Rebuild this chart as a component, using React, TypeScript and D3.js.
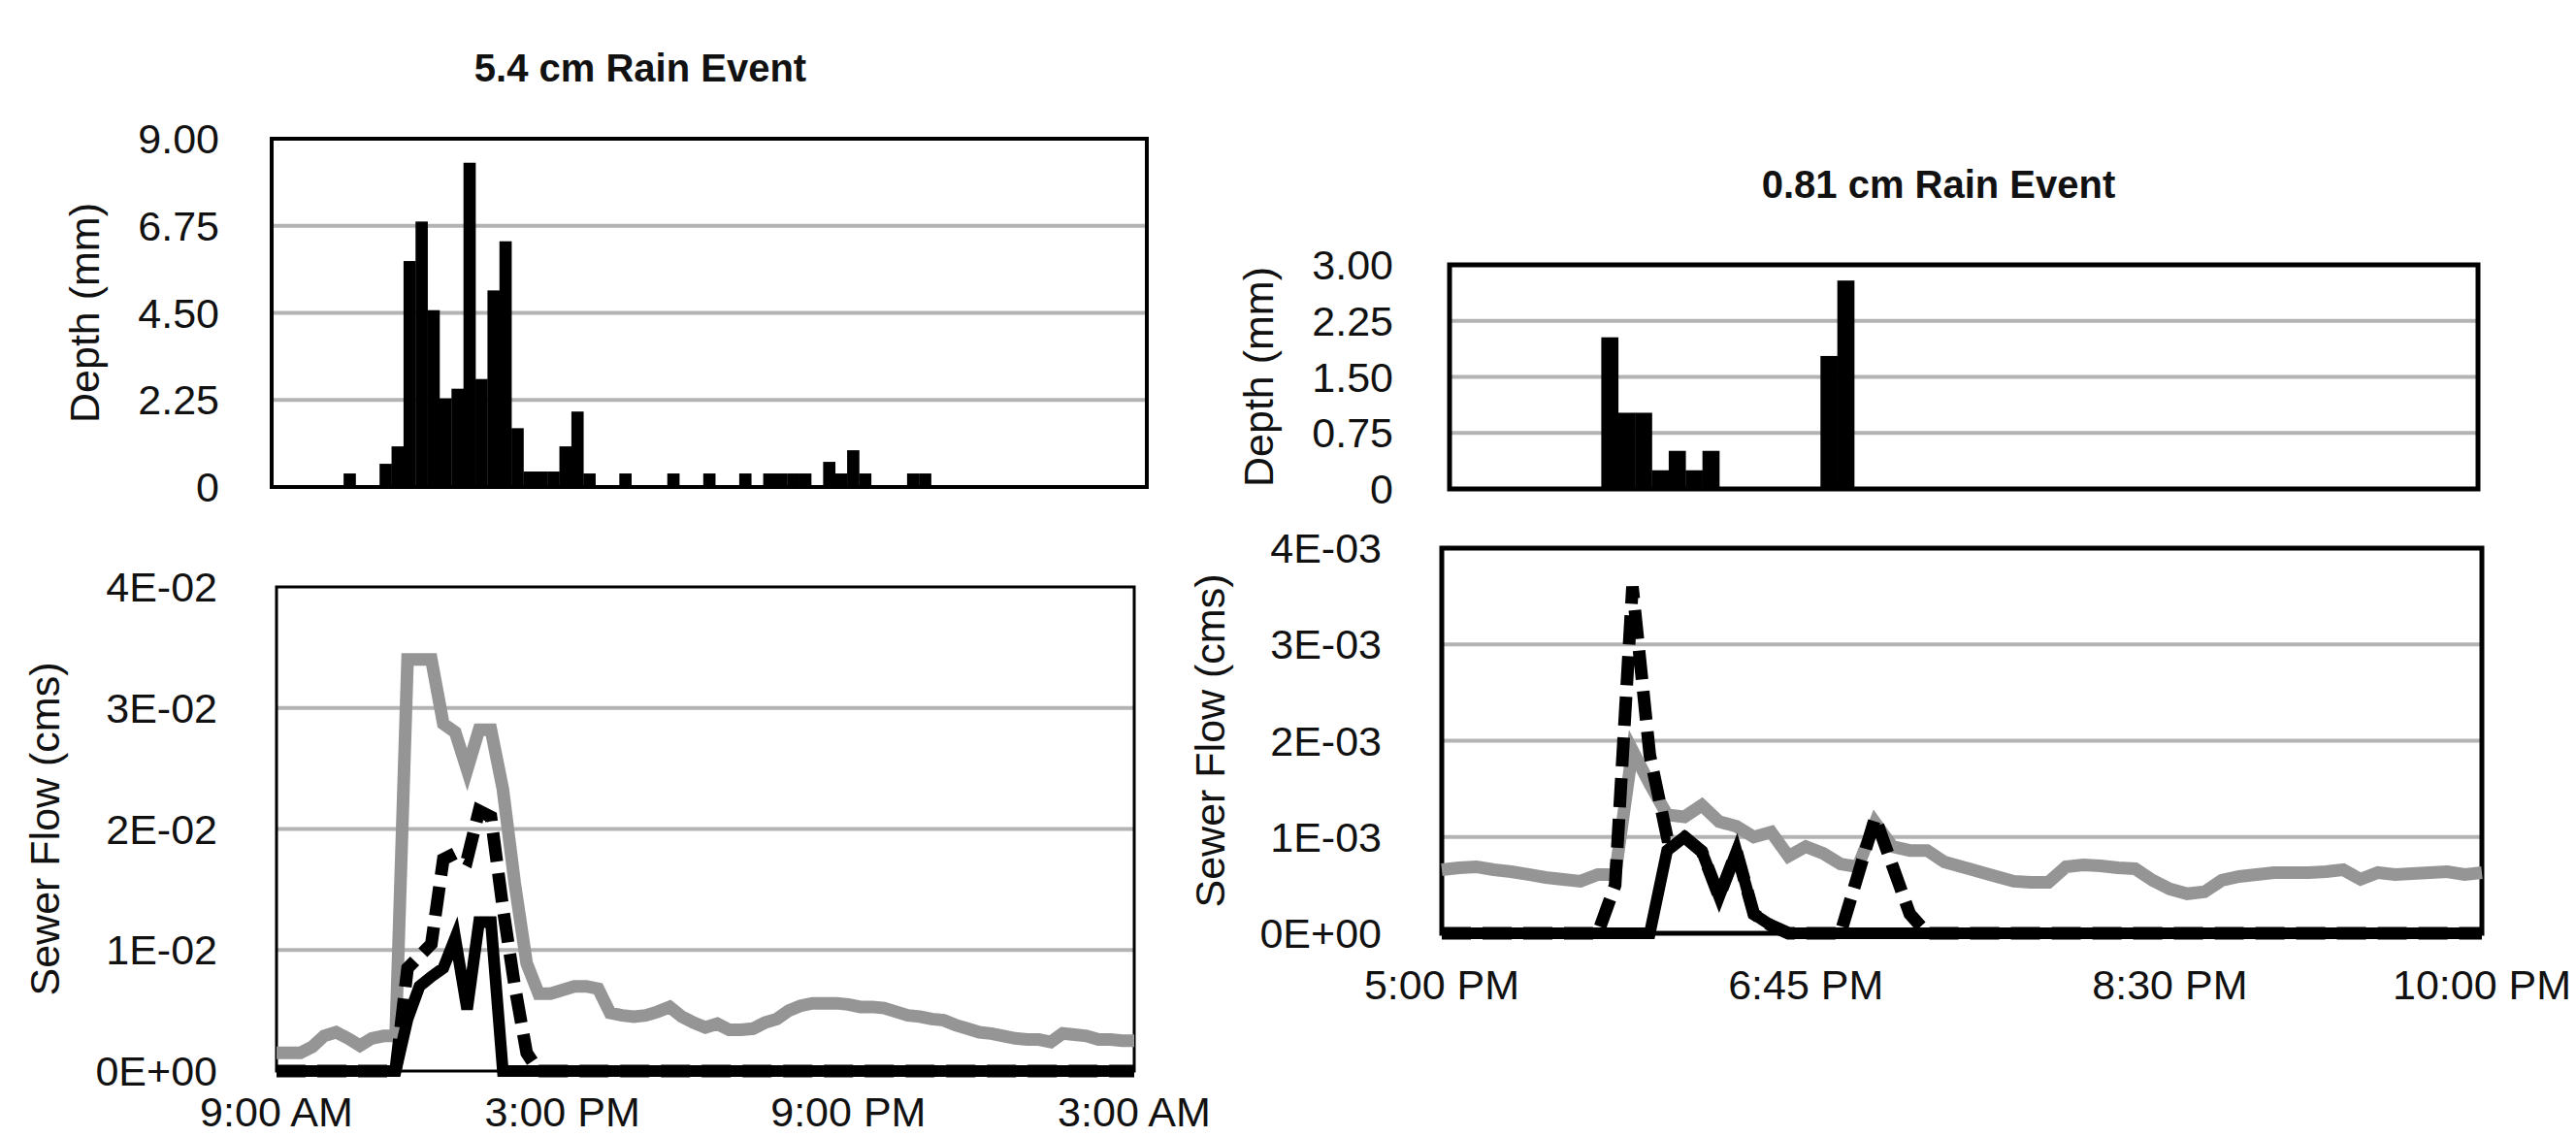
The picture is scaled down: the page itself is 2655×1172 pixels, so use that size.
import React from "react";
import * as d3 from "d3";

// ---------- DATA ----------
// 5.4 cm event: 15-minute steps from 9:00 AM to 3:00 AM (73 categories)
const bigRainDepth = [
  0, 0, 0, 0, 0, 0, 0.35, 0, 0, 0.6, 1.05, 5.84, 6.86, 4.57, 2.29, 2.54, 8.38, 2.79, 5.08, 6.35,
  1.52, 0.4, 0.4, 0.4, 1.05, 1.95, 0.35, 0, 0, 0.35, 0, 0, 0, 0.35, 0, 0, 0.35, 0, 0, 0.35,
  0, 0.35, 0.35, 0.35, 0.35, 0, 0.65, 0.35, 0.95, 0.35, 0, 0, 0, 0.35, 0.35, 0, 0, 0, 0, 0,
  0, 0, 0, 0, 0, 0, 0, 0, 0, 0, 0, 0, 0,
];
const bigFlowGray = [
  0.0015, 0.0015, 0.0015, 0.002, 0.0029, 0.0032, 0.0027, 0.0021, 0.0027, 0.0029, 0.0029,
  0.034, 0.034, 0.034, 0.0287, 0.028, 0.0249, 0.0282, 0.0282, 0.0233, 0.0155, 0.0089,
  0.0064, 0.0064, 0.0067, 0.007, 0.007, 0.0068, 0.0048, 0.0046, 0.0045,
  0.0046, 0.0049, 0.0053, 0.0045, 0.004, 0.0036, 0.0039, 0.0034, 0.0034, 0.0035,
  0.004, 0.0043, 0.005, 0.0054, 0.0056, 0.0056, 0.0056, 0.0055, 0.0053, 0.0053,
  0.0052, 0.0049, 0.0046, 0.0045, 0.0043, 0.0042, 0.0038, 0.0035, 0.0032, 0.0031,
  0.0029, 0.0027, 0.0026, 0.0026, 0.0024, 0.0031, 0.003, 0.0029, 0.0026, 0.0026, 0.0025, 0.0025,
];
const bigFlowSolid = [
  0, 0, 0, 0, 0, 0, 0, 0, 0, 0, 0, 0.0043, 0.007, 0.0078, 0.0085, 0.011, 0.0051, 0.0123, 0.0123, 0,
  0, 0, 0, 0, 0, 0, 0, 0, 0, 0, 0, 0, 0, 0, 0, 0, 0, 0, 0, 0,
  0, 0, 0, 0, 0, 0, 0, 0, 0, 0, 0, 0, 0, 0, 0, 0, 0, 0, 0, 0,
  0, 0, 0, 0, 0, 0, 0, 0, 0, 0, 0, 0, 0,
];
const bigFlowDashed = [
  0, 0, 0, 0, 0, 0, 0, 0, 0, 0, 0, 0.0085, 0.0095, 0.0105, 0.0175, 0.018, 0.0175, 0.0215, 0.021, 0.0135,
  0.007, 0.0015, 0, 0, 0, 0, 0, 0, 0, 0, 0, 0, 0, 0, 0, 0, 0, 0, 0, 0,
  0, 0, 0, 0, 0, 0, 0, 0, 0, 0, 0, 0, 0, 0, 0, 0, 0, 0, 0, 0,
  0, 0, 0, 0, 0, 0, 0, 0, 0, 0, 0, 0, 0,
];
const bigTimeLabels = ["9:00 AM", "3:00 PM", "9:00 PM", "3:00 AM"];
const bigTimeLabelMinutes = [0, 360, 720, 1080];
const bigDepthTicks = [0, 2.25, 4.5, 6.75, 9];
const bigFlowTicks = [0, 0.01, 0.02, 0.03, 0.04];

// 0.81 cm event: 5-minute steps from 5:00 PM to 10:00 PM (61 categories)
const smallRainDepth = [
  0, 0, 0, 0, 0, 0, 0, 0, 0, 2.03, 1.02, 1.02, 0.25, 0.51, 0.25, 0.51, 0, 0, 0, 0,
  0, 0, 1.78, 2.79, 0, 0, 0, 0, 0, 0, 0, 0, 0, 0, 0, 0, 0, 0, 0, 0,
  0, 0, 0, 0, 0, 0, 0, 0, 0, 0, 0, 0, 0, 0, 0, 0, 0, 0, 0, 0, 0,
];
const smallFlowGray = [
  0.00066, 0.00068, 0.00069, 0.00066, 0.00064, 0.00061, 0.00058, 0.00056, 0.00054, 0.00061,
  0.00061, 0.0019, 0.00155, 0.00123, 0.00121, 0.00133, 0.00116, 0.00111, 0.001, 0.00105,
  0.0008, 0.0009, 0.00083, 0.00072, 0.00069, 0.00115, 0.0009, 0.00086, 0.00086, 0.00074,
  0.00069, 0.00064, 0.00059, 0.00054, 0.00053, 0.00053, 0.00069, 0.00071, 0.0007, 0.00068,
  0.00067, 0.00055, 0.00046, 0.00041, 0.00043, 0.00055, 0.00059, 0.00061, 0.00063, 0.00063,
  0.00063, 0.00064, 0.00066, 0.00056, 0.00063, 0.00061, 0.00062, 0.00063, 0.00064, 0.00061, 0.00063,
];
const smallFlowSolid = [
  0, 0, 0, 0, 0, 0, 0, 0, 0, 0, 0, 0, 0, 0.00086, 0.001, 0.00085, 0.00038, 0.00085, 0.0002, 0.00008,
  0, 0, 0, 0, 0, 0, 0, 0, 0, 0, 0, 0, 0, 0, 0, 0, 0, 0, 0, 0,
  0, 0, 0, 0, 0, 0, 0, 0, 0, 0, 0, 0, 0, 0, 0, 0, 0, 0, 0, 0, 0,
];
const smallFlowDashed = [
  0, 0, 0, 0, 0, 0, 0, 0, 0, 0, 0.0005, 0.0036, 0.00185, 0.001, 0.001, 0.00085, 0.00038, 0.00085, 0.0002, 0.00008,
  0, 0, 0, 0, 0.0006, 0.0012, 0.0007, 0.0002, 0, 0, 0, 0, 0, 0, 0, 0, 0, 0, 0, 0,
  0, 0, 0, 0, 0, 0, 0, 0, 0, 0, 0, 0, 0, 0, 0, 0, 0, 0, 0, 0, 0,
];
const smallTimeLabels = ["5:00 PM", "6:45 PM", "8:30 PM", "10:00 PM"];
const smallTimeLabelMinutes = [0, 105, 210, 300];
const smallDepthTicks = [0, 0.75, 1.5, 2.25, 3];
const smallFlowTicks = [0, 0.001, 0.002, 0.003, 0.004];

// ---------- STYLE ----------
const FONT = "'Liberation Sans', Arial, Helvetica, sans-serif";
const TICK_SIZE = 43;
const AXIS_TITLE_SIZE = 43;
const TITLE_SIZE = 40;
const GRID = "#b3b3b3";
const GRAY_LINE = "#959595";

const fmtDepth = (v: number) => (v === 0 ? "0" : v.toFixed(2));
const fmtSci = (v: number) => {
  if (v === 0) return "0E+00";
  const e = Math.floor(Math.log10(v) + 1e-9);
  const m = Math.round(v / Math.pow(10, e));
  const ae = Math.abs(e);
  return `${m}E${e < 0 ? "-" : "+"}${ae < 10 ? "0" + ae : ae}`;
};

type BarPanelProps = {
  values: number[];
  ticks: number[];
  x0: number; x1: number; y0: number; y1: number;
  labelRight: number;
  titleX: number;
  frame: number;
};

function BarPanel({ values, ticks, x0, x1, y0, y1, labelRight, titleX, frame }: BarPanelProps) {
  const x = d3.scaleBand<number>().domain(values.map((_, i) => i)).range([x0, x1]).padding(0);
  const y = d3.scaleLinear().domain([0, ticks[ticks.length - 1]]).range([y1, y0]);
  return (
    <g>
      {ticks.slice(1, -1).map((t) => (
        <line key={t} x1={x0} x2={x1} y1={y(t)} y2={y(t)} stroke={GRID} strokeWidth={4} />
      ))}
      {values.map((v, i) =>
        v > 0 ? (
          <rect key={i} x={x(i)!} width={x.bandwidth() + 0.3} y={y(v)} height={y(0) - y(v)} fill="#000" />
        ) : null
      )}
      <rect x={x0} y={y0} width={x1 - x0} height={y1 - y0} fill="none" stroke="#000" strokeWidth={frame} />
      {ticks.map((t) => (
        <text key={t} x={labelRight} y={y(t)} textAnchor="end" dominantBaseline="central"
          fontFamily={FONT} fontSize={TICK_SIZE} fill="#111">{fmtDepth(t)}</text>
      ))}
      <text transform={`translate(${titleX},${(y0 + y1) / 2}) rotate(-90)`} textAnchor="middle"
        dominantBaseline="central" fontFamily={FONT} fontSize={AXIS_TITLE_SIZE} fill="#111">Depth (mm)</text>
    </g>
  );
}

type LinePanelProps = {
  gray: number[]; solid: number[]; dashed: number[];
  ticks: number[]; timeLabels: string[]; labelMinutes: number[];
  stepMin: number; spanMin: number;
  x0: number; x1: number; y0: number; y1: number;
  labelRight: number; titleX: number; frame: number; xLabelY: number;
};

function LinePanel(p: LinePanelProps) {
  const { gray, solid, dashed, ticks, timeLabels, labelMinutes, stepMin, spanMin, x0, x1, y0, y1, labelRight, titleX, frame, xLabelY } = p;
  const x = d3.scaleLinear().domain([0, spanMin]).range([x0, x1]);
  const y = d3.scaleLinear().domain([0, ticks[ticks.length - 1]]).range([y1, y0]);
  const line = d3.line<number>().x((_, i) => x(i * stepMin)).y((v) => y(v));
  return (
    <g>
      {ticks.slice(1, -1).map((t) => (
        <line key={t} x1={x0} x2={x1} y1={y(t)} y2={y(t)} stroke={GRID} strokeWidth={4} />
      ))}
      <rect x={x0} y={y0} width={x1 - x0} height={y1 - y0} fill="none" stroke="#000" strokeWidth={frame} />
      <path d={line(gray)!} fill="none" stroke={GRAY_LINE} strokeWidth={13} strokeLinejoin="miter" />
      <path d={line(solid)!} fill="none" stroke="#000" strokeWidth={12} strokeLinejoin="miter" />
      <path d={line(dashed)!} fill="none" stroke="#000" strokeWidth={13} strokeDasharray="30 12" strokeLinejoin="miter" />
      {ticks.map((t) => (
        <text key={t} x={labelRight} y={y(t)} textAnchor="end" dominantBaseline="central"
          fontFamily={FONT} fontSize={TICK_SIZE} fill="#111">{fmtSci(t)}</text>
      ))}
      {timeLabels.map((l, i) => (
        <text key={l} x={x(labelMinutes[i])} y={xLabelY} textAnchor="middle"
          fontFamily={FONT} fontSize={TICK_SIZE} fill="#111">{l}</text>
      ))}
      <text transform={`translate(${titleX},${(y0 + y1) / 2}) rotate(-90)`} textAnchor="middle"
        dominantBaseline="central" fontFamily={FONT} fontSize={AXIS_TITLE_SIZE} fill="#111">Sewer Flow (cms)</text>
    </g>
  );
}

export default function App() {
  return (
    <svg width={2655} height={1172} style={{ position: "absolute", left: 0, top: 0, background: "#fff" }}>
      <rect width={2655} height={1172} fill="#fff" />
      <text x={660} y={84} textAnchor="middle" fontFamily={FONT} fontWeight="bold" fontSize={TITLE_SIZE} fill="#111">5.4 cm Rain Event</text>
      <text x={1998} y={204} textAnchor="middle" fontFamily={FONT} fontWeight="bold" fontSize={TITLE_SIZE} fill="#111">0.81 cm Rain Event</text>

      <BarPanel values={bigRainDepth} ticks={bigDepthTicks} x0={280} x1={1182} y0={143} y1={502}
        labelRight={226} titleX={87} frame={4} />
      <LinePanel gray={bigFlowGray} solid={bigFlowSolid} dashed={bigFlowDashed}
        ticks={bigFlowTicks} timeLabels={bigTimeLabels} labelMinutes={bigTimeLabelMinutes}
        stepMin={15} spanMin={1080} x0={285} x1={1169} y0={605} y1={1104}
        labelRight={224} titleX={46} frame={3} xLabelY={1161} />

      <BarPanel values={smallRainDepth} ticks={smallDepthTicks} x0={1494} x1={2554} y0={273} y1={504}
        labelRight={1436} titleX={1297} frame={5} />
      <LinePanel gray={smallFlowGray} solid={smallFlowSolid} dashed={smallFlowDashed}
        ticks={smallFlowTicks} timeLabels={smallTimeLabels} labelMinutes={smallTimeLabelMinutes}
        stepMin={5} spanMin={300} x0={1486} x1={2558} y0={565} y1={962}
        labelRight={1424} titleX={1247} frame={5} xLabelY={1030} />
    </svg>
  );
}
